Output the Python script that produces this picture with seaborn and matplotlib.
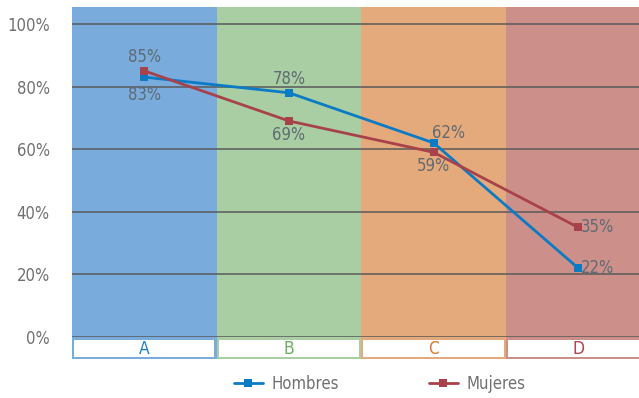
import matplotlib
matplotlib.use("Agg")
import matplotlib.pyplot as plt
from matplotlib.patches import Rectangle
from matplotlib.lines import Line2D
import seaborn as sns
import pandas as pd

categories = ["A", "B", "C", "D"]
hombres = [83, 78, 62, 22]
mujeres = [85, 69, 59, 35]
yticks = [0, 20, 40, 60, 80, 100]
series_names = ["Hombres", "Mujeres"]

band_colors = ["#79acdc", "#aacea4", "#e5aa7c", "#cd8f8a"]
label_colors = ["#1f80c8", "#6db35f", "#d77b2d", "#b2464d"]
line_colors = {"Hombres": "#0a7bc4", "Mujeres": "#a8424a"}
text_gray = "#707070"

sns.set_theme(style="white")
plt.rcParams["font.family"] = ["DejaVu Sans"]
plt.rcParams["font.stretch"] = "condensed"

W, H = 639, 398
fig = plt.figure(figsize=(W / 100, H / 100), dpi=100)

def px_axes(x0, y0, x1, y1):
    return fig.add_axes([x0 / W, 1 - y1 / H, (x1 - x0) / W, (y1 - y0) / H])

XMAX = 3.42  # the last band is cut by the right edge

ax = px_axes(72, 7, 639, 337)

df = pd.DataFrame({
    "cat": categories * 2,
    "x": list(range(len(categories))) * 2,
    "value": hombres + mujeres,
    "serie": [series_names[0]] * 4 + [series_names[1]] * 4,
})

# background bands per category
for i, c in enumerate(band_colors):
    ax.axvspan(i - 0.5, i + 0.5, color=c, lw=0, zorder=0)

for y in yticks:
    ax.axhline(y, color="#5a5a5a", lw=1.1, zorder=1)

sns.lineplot(data=df, x="x", y="value", hue="serie", palette=line_colors,
             marker="s", markersize=6, markeredgewidth=0, linewidth=2,
             legend=False, ax=ax, zorder=3)

ax.set_xlim(-0.5, XMAX)
ax.set_ylim(0, 105.4)
ax.set_xticks([])
ax.set_yticks(yticks)
ax.set_yticklabels([f"{v}%" for v in yticks], fontsize=12, color=text_gray)
ax.tick_params(axis="y", length=0, pad=16)
ax.set_xlabel("")
ax.set_ylabel("")
for s in ax.spines.values():
    s.set_visible(False)

# value labels
offsets_h = [(0, -13), (0, 10), (11, 7), (14, 0)]
offsets_m = [(0, 10), (0, -10), (0, -10), (14, 0)]
for i in range(len(categories)):
    ax.annotate(f"{hombres[i]}%", (i, hombres[i]), xytext=offsets_h[i],
                textcoords="offset points", ha="center", va="center",
                fontsize=12, color="#5f6a72", zorder=4)
    ax.annotate(f"{mujeres[i]}%", (i, mujeres[i]), xytext=offsets_m[i],
                textcoords="offset points", ha="center", va="center",
                fontsize=12, color="#5f6a72", zorder=4)

# category label row
lab = px_axes(72, 337, 639, 359)
lab.set_xlim(-0.5, XMAX)
lab.set_ylim(0, 1)
lab.axis("off")
for i, (bc, tc) in enumerate(zip(band_colors, label_colors)):
    lab.add_patch(Rectangle((i - 0.5, 0), 1, 1, color=bc, lw=0))
    lab.add_patch(Rectangle((i - 0.485, 0.08), 0.97, 0.78, color="white", lw=0))
    lab.text(i, 0.46, categories[i], ha="center", va="center",
             fontsize=12.5, color=tc)

handles = [Line2D([], [], color=line_colors[n], marker="s", markersize=6,
                  markeredgewidth=0, lw=2) for n in series_names]
leg = fig.legend(handles, series_names, loc="center", ncol=2,
                 bbox_to_anchor=(380 / W, 1 - 384 / H), frameon=False,
                 fontsize=12, handlelength=1.7, handletextpad=0.55,
                 columnspacing=5.4)
for t in leg.get_texts():
    t.set_color(text_gray)

fig.savefig("out.png", dpi=100)
